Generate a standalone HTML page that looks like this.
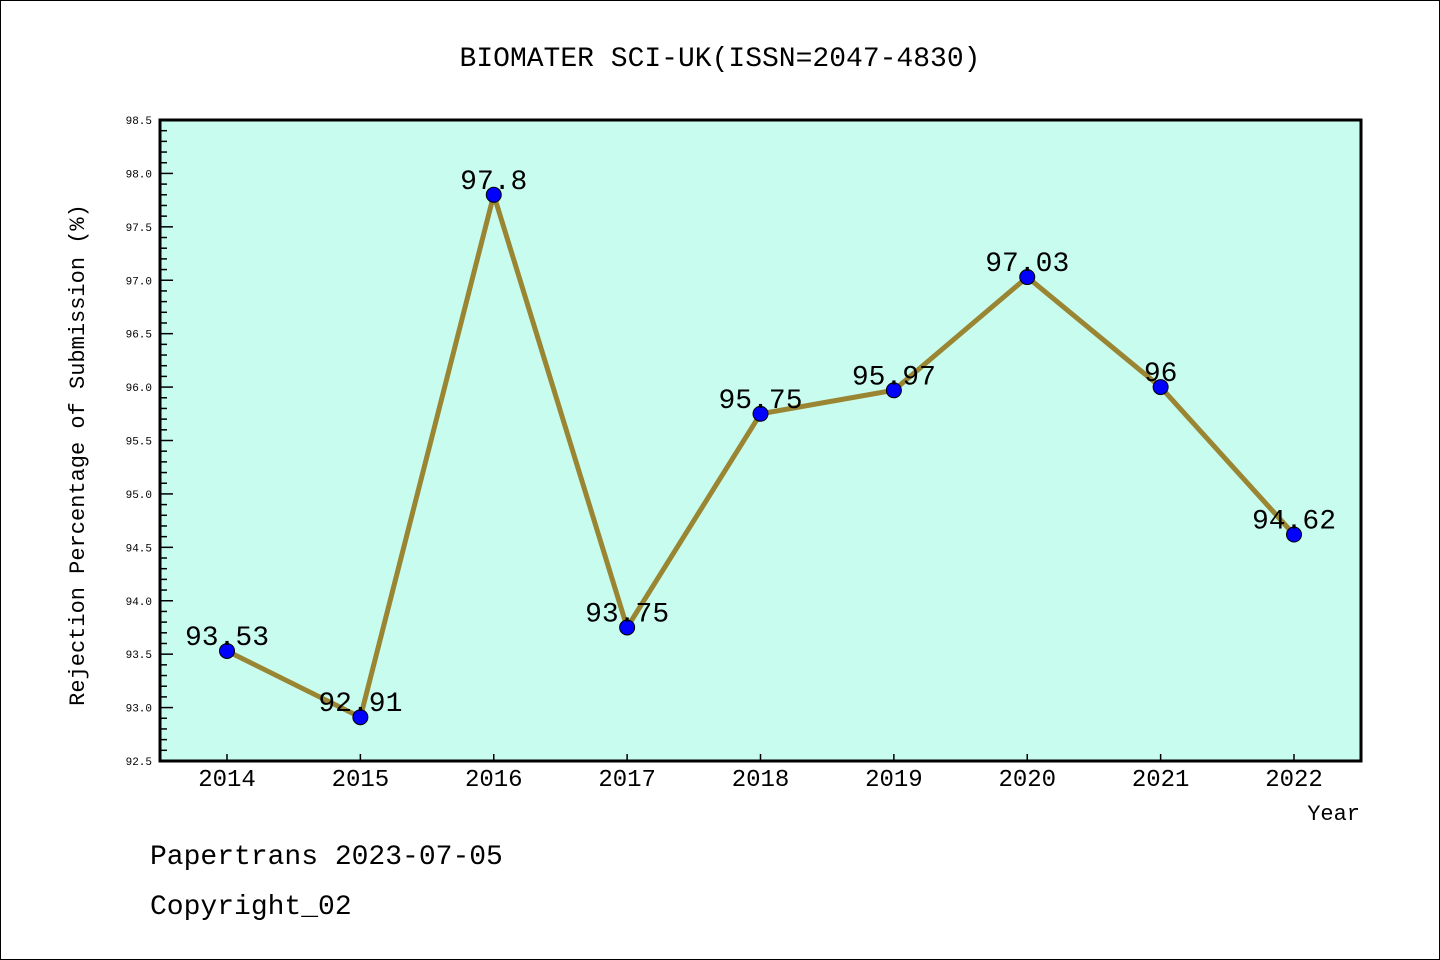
<!DOCTYPE html>
<html><head><meta charset="utf-8"><style>
html,body{margin:0;padding:0;background:#fff}
svg{display:block}
text{font-family:"Liberation Mono","DejaVu Sans Mono",monospace;fill:#000}
</style></head><body>
<svg id="chart" width="1440" height="960" xmlns="http://www.w3.org/2000/svg">
<rect x="0.5" y="0.5" width="1439" height="959" fill="#fff" stroke="#000"/>
<text x="720" y="66" font-size="28" text-anchor="middle">BIOMATER SCI-UK(ISSN=2047-4830)</text>
<rect x="160" y="120" width="1201" height="641" fill="#c8fcee"/>
<g id="axes"></g>
<g id="series"></g>
<rect x="160" y="120" width="1201" height="641" fill="none" stroke="#000" stroke-width="3"/>
<text transform="translate(84,455) rotate(-90)" font-size="22" text-anchor="middle">Rejection Percentage of Submission (%)</text>
<text x="1360" y="820" font-size="22" text-anchor="end">Year</text>
<text x="150" y="864" font-size="28">Papertrans 2023-07-05</text>
<text x="150" y="914" font-size="28">Copyright_02</text>
</svg>
<script>
const categories = ["2014","2015","2016","2017","2018","2019","2020","2021","2022"];
const values = [93.53,92.91,97.8,93.75,95.75,95.97,97.03,96,94.62];
const valueLabels = ["93.53","92.91","97.8","93.75","95.75","95.97","97.03","96","94.62"];
const yTicks = ["92.5","93.0","93.5","94.0","94.5","95.0","95.5","96.0","96.5","97.0","97.5","98.0","98.5"];
const yMin = 92.5, yMax = 98.5;
const NS = "http://www.w3.org/2000/svg";
const L=160,R=1361,T=120,B=761;
function y(v){return B-(v-yMin)/(yMax-yMin)*(B-T);}
function x(i){return 227+i*(1294-227)/(categories.length-1);}
function mk(tag,attrs,parent){const e=document.createElementNS(NS,tag);for(const k in attrs)e.setAttribute(k,attrs[k]);parent.appendChild(e);return e;}
const axes=document.getElementById('axes'), series=document.getElementById('series');
for(let v=yMin; v<=yMax+1e-9; v+=0.1){
  const major=Math.abs(v*2-Math.round(v*2))<1e-6;
  const t=mk('line',{x1:L,x2:L+(major?13:7),y1:y(v),y2:y(v),stroke:'#000','stroke-width':1.5},axes);
  
  
}
yTicks.forEach(s=>{
  const t=mk('text',{x:152,y:y(parseFloat(s))+4,'font-size':11,'text-anchor':'end'},axes);
  t.textContent=s;
  
  
});
categories.forEach((c,i)=>{
  const t=mk('line',{x1:x(i),x2:x(i),y1:B,y2:B-7,stroke:'#000','stroke-width':1.5},axes);
  
  
  const l=mk('text',{x:x(i),y:786,'font-size':24,'text-anchor':'middle'},axes);
  l.textContent=c;
  
  
});
const line=mk('polyline',{points:values.map((v,i)=>x(i)+','+y(v)).join(' '),fill:'none',stroke:'#9a8533','stroke-width':5,'stroke-linejoin':'round'},series);


values.forEach((v,i)=>{
  const c=mk('circle',{cx:x(i),cy:y(v),r:7.5,fill:'#0000ff',stroke:'#000','stroke-width':1},series);
  
  
  const t=mk('text',{x:x(i),y:y(v)-6,'font-size':28,'text-anchor':'middle'},series);
  t.textContent=valueLabels[i];
  
  
});
</script>
</body></html>
